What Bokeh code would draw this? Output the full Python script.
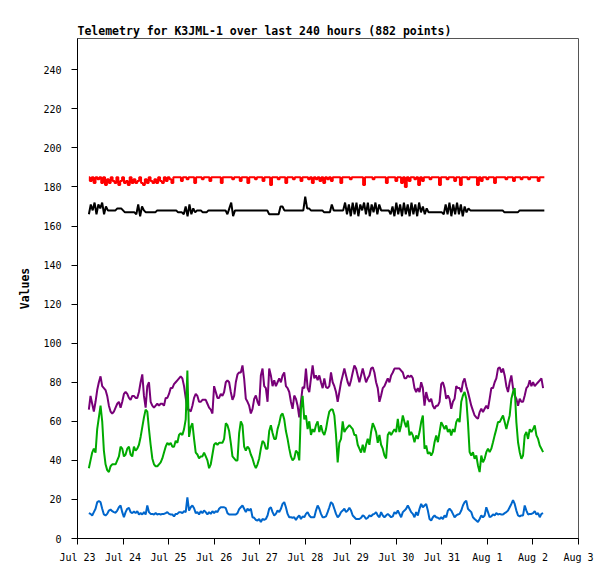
from bokeh.plotting import figure
from bokeh.models import Range1d, FixedTicker
from bokeh.embed import file_html
from bokeh.resources import INLINE

TITLE = "Telemetry for K3JML-1 over last 240 hours (882 points)"
Y_LABEL = "Values"

# x axis: hours since Jul 23 00:00
x_tick_hours = [0, 24, 48, 72, 96, 120, 144, 168, 192, 216, 240, 264]
x_tick_labels = ["Jul 23", "Jul 24", "Jul 25", "Jul 26", "Jul 27", "Jul 28",
                 "Jul 29", "Jul 30", "Jul 31", "Aug 1", "Aug 2", "Aug 3"]
y_ticks = [0, 20, 40, 60, 80, 100, 120, 140, 160, 180, 200, 220, 240]

# sampling of the packets (hours)
START_HOUR = 5.98
STEP_HOURS = 0.88

purple = [
    66, 73, 69, 65, 70, 76, 80, 83, 78, 77,
    76, 73, 68, 65, 64, 65, 67, 69, 70, 67,
    70, 74, 75, 74, 72, 71, 73, 73, 72, 72,
    75, 80, 84, 73, 67, 78, 80, 70, 68, 67,
    68, 69, 68, 69, 69, 68, 72, 72, 74, 77,
    77, 79, 80, 81, 82, 83, 82, 78, 72, 66,
    66, 65, 68, 72, 74, 73, 70, 70, 71, 71,
    71, 69, 67, 66, 64, 78, 75, 72, 72, 74,
    73, 75, 80, 81, 80, 75, 71, 73, 80, 84,
    85,
    85, 88.6, 81.8, 71.5, 70, 68, 64, 66.4, 71.5, 73.2,
    70, 68, 83.5, 87, 78, 77, 70, 87, 83.5, 78,
    81, 78, 80, 82, 80, 83.5, 85, 78, 77, 75,
    70, 66.4, 73.2, 71.5, 68, 62, 70, 77.5, 77, 87,
    77, 75, 82, 88.6, 82, 83.5, 81, 83.5, 80, 77,
    82, 77.5, 77, 78, 85, 80, 78, 75, 70, 75,
    80, 83.5, 87, 83.5, 80, 78, 81, 85, 88.6, 87,
    83.5, 80, 83.5, 87, 83.5, 80, 82, 83.5, 87, 87.7,
    85, 80, 77, 70, 73.2, 77, 78, 80, 82, 80,
    83.5, 85, 87,
    87, 87, 87, 86, 85, 82, 82, 83.5, 82.6, 83.5,
    82, 77, 75, 77, 75, 80, 77, 68, 75, 71.5,
    70, 71.5, 68, 66.4, 68, 68, 70, 79, 80, 77,
    71.5, 73.2, 71.5, 66.4, 70, 71.5, 78, 77, 77, 75,
    80, 82, 78, 75, 71.5, 68, 65.5, 63, 62, 61.3,
    64.7, 66.4, 64.7, 66.4, 68, 66.4, 71.5, 77, 77, 80,
    82, 87, 87.7, 85, 87, 83.5, 78, 75, 80, 83.5,
    77, 73.2, 71.5, 68, 71.5, 70, 70, 73.2, 77, 78,
    81, 78, 80, 78, 79, 80, 81, 82, 77,
]

green = [
    36, 40, 44, 46, 44, 56, 62, 68, 60, 45,
    38, 35, 34, 37, 38, 38, 38, 40, 42, 47,
    46, 42, 43, 46, 47, 43, 42, 47, 45, 46,
    48, 52, 57, 62, 66, 65, 56, 48, 41, 38,
    37, 37, 38, 39, 41, 44, 47, 49, 48, 49,
    47, 47, 50, 49, 53, 54, 53, 56, 61, 86,
    52, 57, 59, 51, 44, 43, 41, 42, 42, 44,
    42, 40, 36, 38, 43, 48, 49, 48, 49, 49,
    49, 51, 59, 58, 55, 49, 42, 41, 40, 40,
    54,
    60, 58, 47, 45, 47, 46, 43, 41, 38, 36,
    38, 41, 46, 50, 49, 46, 46, 55, 58, 54,
    51, 51, 56, 59, 63, 64, 61, 55, 51, 46,
    42, 40, 41, 45, 44, 40, 66, 73, 61, 63,
    56, 60, 53, 56, 54.5, 58, 60, 54.5, 58, 54.5,
    53, 56, 61, 65, 66, 66, 63, 53, 39, 49,
    51, 60, 54.5, 56, 57, 58, 57, 56, 53, 53,
    48, 46, 44, 48, 44, 48, 51, 48, 54.5, 59,
    57, 54.5, 49, 53, 48, 46, 42.5, 41, 53, 54.5,
    53, 54.5, 56,
    54.5, 61.3, 54.5, 57.9, 63, 59.6, 57, 60.4, 52.8, 54.5,
    52.8, 49.3, 52.8, 51, 54.5, 59.6, 63, 46, 47.6, 43.4,
    44.2, 42.5, 44.2, 49.3, 52.8, 49.3, 54.5, 59.6, 57.9, 56,
    57.9, 54.5, 56, 52.8, 56, 54.5, 59.6, 61.3, 59.6, 70,
    73.2, 75, 71.5, 59.6, 44.2, 42.5, 44.2, 40.8, 42.5, 37.4,
    34, 42.5, 39, 40.8, 44.2, 46, 44.2, 46, 49.3, 52.8,
    56, 59.6, 59.6, 61.3, 63, 59.6, 56, 59.6, 63, 71.5,
    75, 77, 59.6, 49.3, 44.2, 40.8, 42.5, 52.8, 54.5, 51,
    56, 54.5, 56, 57.9, 52.8, 51, 47.6, 46, 44.2,
]

blue = [
    13, 12.6, 11.8, 13.5, 15.2, 18.6, 19.1, 18.6, 15.2, 12.3,
    11.8, 12.6, 14.3, 14.8, 14, 13.5, 13.2, 14.3, 16, 16.9,
    13.5, 10.9, 13.5, 15.2, 15.7, 13.5, 13, 13.8, 13, 14,
    12.3, 13, 12.3, 13.5, 12.3, 16.9, 13.5, 12.6, 12.6, 12.3,
    13, 12.3, 12.6, 12.3, 12.6, 12.6, 13, 13.5, 12.6, 12.3,
    12.3, 11.3, 12.6, 12.6, 13.5, 13.5, 13, 14, 13.5, 21.1,
    14.3, 16, 16.9, 15.5, 13, 13.5, 12.3, 14, 13, 14.3,
    13.5, 12.3, 13.5, 12.6, 14, 13, 14, 13.5, 15.2, 16,
    16, 16, 15.5, 13, 12.3, 12.3, 12.3, 12.3, 12.3, 13,
    15,
    16, 16.9, 15.2, 13.5, 15.2, 14.3, 15.2, 10.9, 10.6, 9.5,
    9.2, 10, 8.4, 10, 9.5, 10, 11.8, 15.2, 16, 13.5,
    11.8, 12.6, 14.3, 13.5, 15.2, 17.7, 18.6, 16, 12.6, 10.9,
    10.9, 10.6, 10.9, 9.5, 10.9, 11.8, 10, 11.3, 10.9, 12.6,
    13.5, 11.8, 10.9, 10.9, 10.9, 14.3, 16.9, 15.2, 12.6, 10.9,
    10.9, 11.3, 13.5, 16, 18.6, 17.7, 15.2, 12.6, 10.9, 11.8,
    13.5, 14.3, 15.2, 13.5, 14.3, 15.7, 14.3, 11.8, 10.9, 10,
    10, 10, 10.6, 11.8, 11.3, 10, 10.6, 11.8, 11.3, 12.3,
    12.6, 13.5, 11.8, 10.9, 13.5, 11.8, 10.9, 11.8, 12.6, 11.8,
    10.9, 11.3, 13.5,
    12.6, 14.3, 12.6, 10.9, 13.5, 14.3, 15.2, 16.9, 15.2, 13.5,
    12.6, 10.9, 13.5, 11.8, 15.2, 17.7, 16, 16.9, 17.7, 14.3,
    10, 9.2, 10.9, 11.8, 10.9, 10.6, 10, 10.9, 10, 11.8,
    10.9, 14.3, 15.2, 14.3, 12.6, 10.9, 11.8, 12.3, 12.6, 14.3,
    16.9, 18.6, 19.4, 15.2, 14.3, 13.5, 10.9, 10, 9.2, 8.4,
    10, 11.8, 10.9, 11.8, 16, 13.5, 10.9, 11.3, 12.3, 11.8,
    13, 12.3, 12.6, 12.3, 12.3, 13, 13.5, 14.3, 16, 17.7,
    19.7, 17.7, 14.3, 11.8, 11.3, 11.8, 11.8, 16.9, 14.3, 12.3,
    12.6, 12.6, 13, 14, 12.3, 13, 10.9, 12.6, 13,
]

# red and black channels, one reading per hour from hour 6 to hour 246
rb_hours = list(range(6, 247))
red = [
    185, 183, 185, 182, 185, 184, 185, 182, 185, 181,
    184, 182, 185, 183, 182, 185, 181, 183, 185, 182,
    183, 181, 185, 182, 184, 182, 183, 185, 182, 181,
    184, 182, 185, 183, 182, 184, 182, 185, 183, 182,
    185, 183, 185, 184, 182, 185, 185, 185, 185, 183,
    185, 185, 184, 185, 185, 185, 182, 185, 185, 185,
    184, 185, 185, 185, 183, 185, 185, 185, 185, 185,
    182, 185, 185, 185, 185, 185, 184, 185, 185, 185,
    183, 185, 185, 185, 182, 185, 185, 185, 184, 185,
    185, 185, 183, 185, 185, 185, 181, 185, 185, 185,
    184, 185, 185, 185, 182, 185, 185, 185, 184, 185,
    185, 185, 183, 185, 185, 185, 184, 185, 182, 185,
    184, 185, 183, 185, 182, 185, 184, 185, 183, 185,
    185, 185, 185, 182, 185, 185, 185, 185, 184, 185,
    185, 185, 185, 185, 185, 181, 185, 185, 185, 185,
    184, 185, 185, 185, 185, 185, 185, 182, 185, 185,
    185, 185, 183, 185, 185, 182, 185, 180, 185, 183,
    185, 185, 184, 185, 181, 185, 183, 185, 185, 185,
    184, 185, 185, 185, 185, 181, 185, 185, 185, 184,
    185, 185, 185, 183, 185, 185, 181, 185, 185, 185,
    184, 185, 185, 185, 185, 181, 185, 183, 185, 185,
    184, 185, 185, 185, 182, 185, 185, 185, 185, 185,
    184, 185, 185, 185, 183, 185, 185, 185, 184, 185,
    185, 185, 184, 185, 185, 185, 185, 183, 185, 185,
    185,
]
black = [
    166, 171, 168, 172, 166, 171, 169, 172, 166, 170,
    168, 168, 168, 168, 168, 169, 169, 169, 168, 167,
    167, 167, 167, 167, 167, 166, 171, 165, 170, 168,
    167, 167, 167, 167, 167, 167, 168, 168, 168, 168,
    168, 168, 168, 168, 168, 168, 168, 167, 167, 167,
    166, 170, 165, 171, 166, 169, 167, 168, 168, 168,
    167, 167, 167, 168, 168, 168, 168, 168, 168, 168,
    168, 168, 168, 166, 169, 172, 165, 168, 168, 168,
    168, 168, 168, 168, 168, 168, 168, 168, 168, 168,
    168, 168, 168, 168, 168, 166, 166, 166, 166, 166,
    166, 170, 170, 168, 168, 168, 168, 168, 168, 168,
    168, 168, 168, 168, 175, 169, 169, 168, 168, 168,
    168, 168, 168, 168, 167, 167, 167, 167, 171, 168,
    168, 168, 168, 168, 168, 172, 166, 171, 165, 172,
    166, 172, 165, 171, 168, 172, 166, 172, 165, 171,
    167, 172, 166, 171, 168, 168, 168, 168, 168, 166,
    170, 165, 172, 166, 171, 165, 172, 166, 171, 165,
    172, 166, 171, 165, 172, 167, 170, 166, 169, 167,
    167, 167, 167, 167, 167, 167, 167, 166, 171, 166,
    172, 165, 171, 166, 172, 166, 171, 165, 170, 167,
    169, 168, 168, 168, 168, 168, 168, 168, 168, 168,
    168, 168, 168, 168, 168, 168, 168, 168, 168, 167,
    167, 167, 167, 167, 167, 167, 167, 168, 168, 168,
    168, 168, 168, 168, 168, 168, 168, 168, 168, 168,
    168,
]

hours = [START_HOUR + STEP_HOURS * i for i in range(len(purple))]

MONO = "DejaVu Sans Mono"

p = figure(width=600, height=570, output_backend="svg", toolbar_location=None,
           x_range=Range1d(0, 264), y_range=Range1d(0, 256),
           min_border_left=77, min_border_right=22,
           min_border_top=38, min_border_bottom=32,
           background_fill_color="white", border_fill_color="white")

p.title.text = TITLE
p.title.text_font = MONO
p.title.text_font_style = "bold"
p.title.text_font_size = "11.5px"
p.title.text_color = "black"
p.title.align = "left"
p.title.standoff = 2
p.title.offset = 0

p.outline_line_color = "#555555"
p.outline_line_width = 1
p.xgrid.visible = False
p.ygrid.visible = False

p.step(rb_hours, red, line_color="#ff0000", line_width=2, mode="center")
p.line(rb_hours, black, line_color="#000000", line_width=2)
p.line(hours, purple, line_color="#780078", line_width=2)
p.line(hours, green, line_color="#00aa00", line_width=2)
p.line(hours, blue, line_color="#0066cc", line_width=2)

xa = p.xaxis[0]
xa.ticker = FixedTicker(ticks=x_tick_hours)
xa.major_label_overrides = {h: lab for h, lab in zip(x_tick_hours, x_tick_labels)}
ya = p.yaxis[0]
ya.ticker = FixedTicker(ticks=y_ticks)
ya.axis_label = Y_LABEL
ya.axis_label_text_font = MONO
ya.axis_label_text_font_style = "bold"
ya.axis_label_text_font_size = "11.5px"
ya.axis_label_text_color = "black"
ya.axis_label_standoff = 8

for ax in (xa, ya):
    ax.axis_line_color = "black"
    ax.axis_line_width = 1
    ax.major_tick_line_color = "black"
    ax.major_tick_in = 0
    ax.major_tick_out = 6
    ax.minor_tick_line_color = None
    ax.major_label_text_font = MONO
    ax.major_label_text_font_size = "10px"
    ax.major_label_text_color = "black"
xa.major_label_standoff = 7
ya.major_label_standoff = 10

open("out.html", "w").write(file_html(p, INLINE))
